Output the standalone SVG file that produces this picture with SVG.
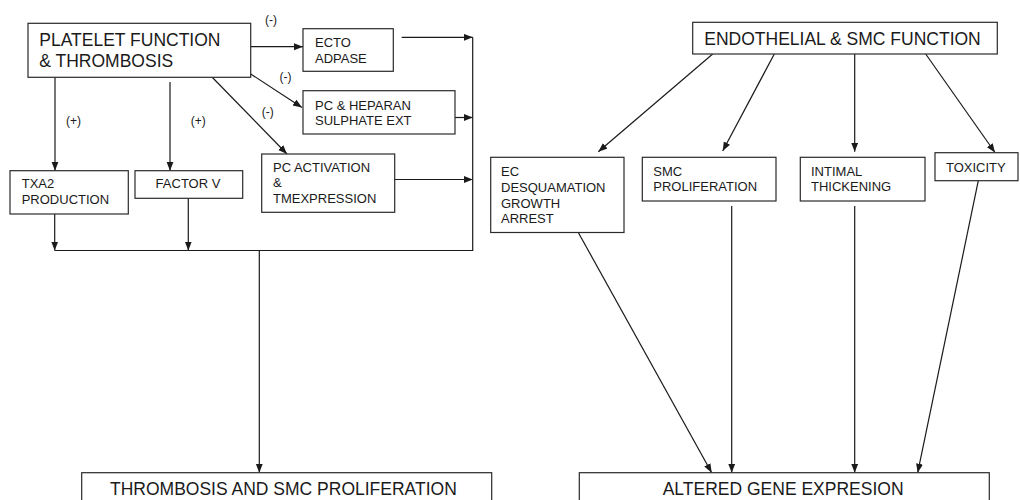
<svg xmlns="http://www.w3.org/2000/svg" width="1020" height="500" viewBox="0 0 1020 500">
  <defs>
    <marker id="ah" markerUnits="userSpaceOnUse" markerWidth="10" markerHeight="8" refX="9" refY="3.5" orient="auto">
      <path d="M0,0 L9,3.5 L0,7 z" fill="#1a1a1a"/>
    </marker>
    <style>
      .box { fill: #ffffff; stroke: #2a2a2a; stroke-width: 1.2; }
      .big { font-family: "Liberation Sans", Arial, sans-serif; font-size: 17.5px; fill: #1a1a1a; }
      .sm { font-family: "Liberation Sans", Arial, sans-serif; font-size: 13px; fill: #1a1a1a; }
      .lbl { font-family: "Liberation Sans", Arial, sans-serif; font-size: 12px; fill: #1a1a1a; }
      .ln { fill: none; stroke: #1a1a1a; stroke-width: 1.2; }
      .arr { fill: none; stroke: #1a1a1a; stroke-width: 1.2; marker-end: url(#ah); }
    </style>
  </defs>
  <rect width="1020" height="500" fill="#ffffff"/>

  <g id="connectors">
    <!-- left side -->
    <line class="arr" x1="251" y1="46.7" x2="303" y2="46.7"/>
    <line class="arr" x1="250.7" y1="74" x2="302" y2="107.5"/>
    <line class="arr" x1="210" y1="75" x2="287" y2="154"/>
    <line class="arr" x1="55" y1="77.3" x2="55" y2="170.7"/>
    <line class="arr" x1="170" y1="82" x2="170" y2="170.7"/>
    <line class="arr" x1="401.7" y1="37.3" x2="472.7" y2="37.3"/>
    <line class="arr" x1="455" y1="117.5" x2="472.7" y2="117.5"/>
    <line class="arr" x1="392.7" y1="179.5" x2="472.7" y2="179.5"/>
    <polyline class="ln" points="472.7,37.3 472.7,250.5 54.7,250.5"/>
    <line class="arr" x1="54.7" y1="214" x2="54.7" y2="250.5"/>
    <line class="arr" x1="188.3" y1="198.3" x2="188.3" y2="250.5"/>
    <line class="arr" x1="259.3" y1="250.5" x2="259.3" y2="472.7"/>
    <text class="lbl" x="265" y="24">(-)</text>
    <text class="lbl" x="279.5" y="81">(-)</text>
    <text class="lbl" x="261.7" y="116">(-)</text>
    <text class="lbl" x="66" y="125">(+)</text>
    <text class="lbl" x="190.7" y="125">(+)</text>
    <!-- right side -->
    <line class="arr" x1="712.7" y1="54" x2="598.3" y2="151.7"/>
    <line class="arr" x1="774.3" y1="54" x2="722.7" y2="151"/>
    <line class="arr" x1="854.7" y1="54" x2="854.7" y2="151.7"/>
    <line class="arr" x1="925.7" y1="54" x2="995" y2="152.5"/>
    <line class="arr" x1="578.3" y1="232.5" x2="711.7" y2="472.7"/>
    <line class="arr" x1="731.7" y1="206" x2="731.7" y2="472.7"/>
    <line class="arr" x1="854.7" y1="206" x2="854.7" y2="472.7"/>
    <line class="arr" x1="978.3" y1="180.7" x2="917.7" y2="472.7"/>
  </g>

  <g id="platelet">
    <rect class="box" x="28" y="23.3" width="222.7" height="54"/>
    <text class="big" x="39.3" y="45.7">PLATELET FUNCTION</text>
    <text class="big" x="39.3" y="66.7">&amp; THROMBOSIS</text>
  </g>
  <g id="ecto">
    <rect class="box" x="303" y="28.7" width="90.3" height="42.6"/>
    <text class="sm" x="315" y="46.7">ECTO</text>
    <text class="sm" x="315" y="62.7">ADPASE</text>
  </g>
  <g id="heparan">
    <rect class="box" x="303" y="90.7" width="152" height="43.3"/>
    <text class="sm" x="315" y="109.5">PC &amp; HEPARAN</text>
    <text class="sm" x="315" y="124.5">SULPHATE EXT</text>
  </g>
  <g id="pcactivation">
    <rect class="box" x="261.7" y="154" width="133" height="58.3"/>
    <text class="sm" x="273" y="171.7">PC ACTIVATION</text>
    <text class="sm" x="273" y="187.3">&amp;</text>
    <text class="sm" x="273" y="203.3">TMEXPRESSION</text>
  </g>
  <g id="txa2">
    <rect class="box" x="10" y="170.7" width="118.3" height="43.3"/>
    <text class="sm" x="21.7" y="187.7">TXA2</text>
    <text class="sm" x="21.7" y="204.3">PRODUCTION</text>
  </g>
  <g id="factorv">
    <rect class="box" x="135" y="170.7" width="107.7" height="27.6"/>
    <text class="sm" x="188" y="188.3" text-anchor="middle">FACTOR V</text>
  </g>
  <g id="thrombosis">
    <rect class="box" x="81.7" y="472.7" width="410" height="40"/>
    <text class="big" x="110" y="495">THROMBOSIS AND SMC PROLIFERATION</text>
  </g>

  <g id="endothelial">
    <rect class="box" x="692.7" y="22.3" width="304.6" height="31.7"/>
    <text class="big" x="704.3" y="45">ENDOTHELIAL &amp; SMC FUNCTION</text>
  </g>
  <g id="ecdesq">
    <rect class="box" x="490.7" y="157.3" width="133.3" height="75.2"/>
    <text class="sm" x="501" y="176">EC</text>
    <text class="sm" x="501" y="192.3">DESQUAMATION</text>
    <text class="sm" x="501" y="207.5">GROWTH</text>
    <text class="sm" x="501" y="223.3">ARREST</text>
  </g>
  <g id="smcprolif">
    <rect class="box" x="642.3" y="157.3" width="133.7" height="43.7"/>
    <text class="sm" x="653.3" y="176">SMC</text>
    <text class="sm" x="653.3" y="191.3">PROLIFERATION</text>
  </g>
  <g id="intimal">
    <rect class="box" x="800.3" y="157.3" width="124.7" height="43.7"/>
    <text class="sm" x="811" y="176">INTIMAL</text>
    <text class="sm" x="811" y="191.3">THICKENING</text>
  </g>
  <g id="toxicity">
    <rect class="box" x="935" y="152.7" width="83" height="28"/>
    <text class="sm" x="946" y="171.7">TOXICITY</text>
  </g>
  <g id="altered">
    <rect class="box" x="579.3" y="472.7" width="410" height="40"/>
    <text class="big" x="662.7" y="495">ALTERED GENE EXPRESION</text>
  </g>
</svg>
